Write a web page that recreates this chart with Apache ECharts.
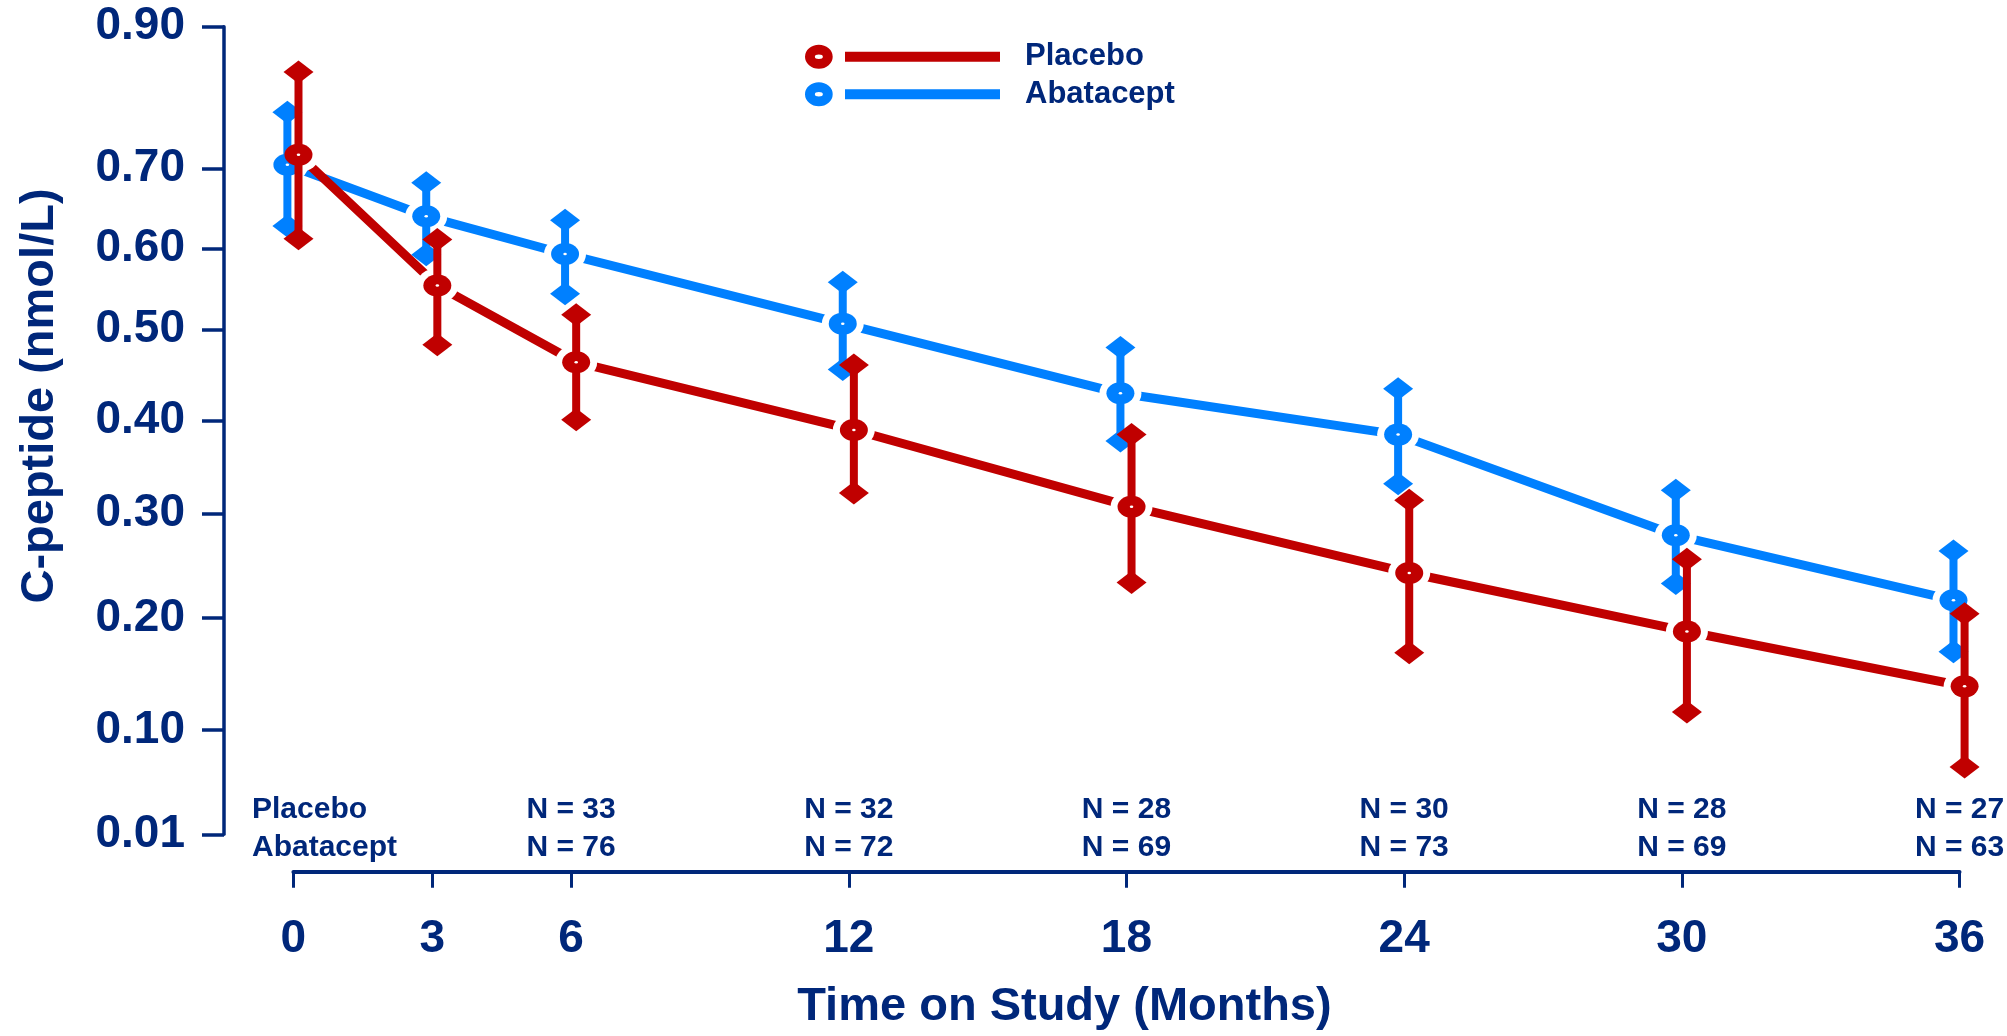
<!DOCTYPE html>
<html><head><meta charset="utf-8">
<script src="https://cdn.jsdelivr.net/npm/echarts@6/dist/echarts.min.js"></script>
<style>html,body{margin:0;padding:0;background:#fff}#chart{width:2007px;height:1036px}</style>
</head><body><div id="chart"></div>
<script>
// ---------------- data ----------------
const months = [0, 3, 6, 12, 18, 24, 30, 36];
const placeboMean  = [0.719, 0.554, 0.464, 0.390, 0.307, 0.243, 0.188, 0.139];
const placeboUpper = [0.836, 0.611, 0.518, 0.461, 0.385, 0.314, 0.256, 0.204];
const placeboLower = [0.612, 0.483, 0.401, 0.322, 0.234, 0.169, 0.116, 0.068];
const abataceptMean  = [0.705, 0.640, 0.593, 0.507, 0.430, 0.385, 0.279, 0.217];
const abataceptUpper = [0.779, 0.682, 0.635, 0.558, 0.480, 0.435, 0.325, 0.264];
const abataceptLower = [0.628, 0.592, 0.544, 0.456, 0.378, 0.332, 0.233, 0.170];
const nMonths = [6, 12, 18, 24, 30, 36];
const placeboN = [33, 32, 28, 30, 28, 27];
const abataceptN = [76, 72, 69, 73, 69, 63];
const xTicks = [0, 3, 6, 12, 18, 24, 30, 36];
const yTicks = [0.01, 0.10, 0.20, 0.30, 0.40, 0.50, 0.60, 0.70, 0.90];
const yTickLabels = ['0.01', '0.10', '0.20', '0.30', '0.40', '0.50', '0.60', '0.70', '0.90'];

// ---------------- non-linear y scale calibration (fraction of axis height per tick) ----------------
const yAxisFraction = [0, 0.1291, 0.2678, 0.3975, 0.5121, 0.6253, 0.7256, 0.8247, 1];
function T(v) {
  const n = yTicks.length;
  for (let i = 0; i < n - 1; i++) {
    if (v <= yTicks[i + 1] || i === n - 2) {
      const t = (v - yTicks[i]) / (yTicks[i + 1] - yTicks[i]);
      return yAxisFraction[i] + t * (yAxisFraction[i + 1] - yAxisFraction[i]);
    }
  }
}

// ---------------- styles ----------------
const NAVY = '#00277A', RED = '#C00000', BLUE = '#0080FF';
const FONT = '"Liberation Sans", Arial, sans-serif';
const DODGE = { placebo: 0.11, abatacept: -0.13 };
const ELLIPSE = 'path://M0,10 A10,10 0 1,0 20,10 A10,10 0 1,0 0,10 Z';
const LEGEND_ICON = 'path://M0,12 A13.85,12 0 1,0 27.7,12 A13.85,12 0 1,0 0,12 Z M9.85,12 A4,2.2 0 1,1 17.85,12 A4,2.2 0 1,1 9.85,12 Z M40,7 L195,7 L195,17 L40,17 Z';

function pts(mean, dodge) { return months.map((m, i) => [m + dodge, T(mean[i])]); }

function lineSeries(name, mean, dodge, color) {
  return { name, type: 'line', data: pts(mean, dodge), symbol: 'none', showSymbol: false,
    lineStyle: { color, width: 9 }, itemStyle: { color }, clip: false, z: 1, silent: true, animation: false };
}
function gapSeries(mean, dodge) {
  return { type: 'scatter', data: pts(mean, dodge), symbol: ELLIPSE, symbolSize: [42, 35],
    itemStyle: { color: '#ffffff', opacity: 1 }, clip: false, z: 2, silent: true, animation: false };
}
function barSeries(lower, upper, dodge, color, z) {
  return { type: 'custom', z, clip: false, silent: true, animation: false,
    data: months.map((m, i) => [m + dodge, T(lower[i]), T(upper[i])]),
    encode: { x: 0, y: [1, 2] },
    renderItem: (params, api) => {
      const lo = api.coord([api.value(0), api.value(1)]);
      const hi = api.coord([api.value(0), api.value(2)]);
      const dw = 15, dh = 11.5;
      const diamond = p => ({ type: 'polygon',
        shape: { points: [[p[0] - dw, p[1]], [p[0], p[1] - dh], [p[0] + dw, p[1]], [p[0], p[1] + dh]] },
        style: { fill: color } });
      return { type: 'group', children: [
        { type: 'line', shape: { x1: lo[0], y1: lo[1], x2: hi[0], y2: hi[1] }, style: { stroke: color, lineWidth: 8 } },
        diamond(lo), diamond(hi)] };
    } };
}
function markerSeries(mean, dodge, color, z, size) {
  return { type: 'scatter', data: pts(mean, dodge), symbol: ELLIPSE, symbolSize: size,
    itemStyle: { color, opacity: 1 }, clip: false, z, silent: true, animation: false };
}

const option = {
  animation: false,
  backgroundColor: '#ffffff',
  grid: { left: 293.4, right: 47.5, top: 26.7, bottom: 201.7, outerBoundsMode: 'none', containLabel: false },
  legend: {
    orient: 'vertical', left: 805, top: 39.7, padding: 0, itemGap: 3.6,
    itemWidth: 195, itemHeight: 24, selectedMode: false,
    itemStyle: { borderWidth: 0 },
    data: [{ name: 'Placebo', icon: LEGEND_ICON }, { name: 'Abatacept', icon: LEGEND_ICON }],
    textStyle: { color: NAVY, fontSize: 31, fontWeight: 'bold', fontFamily: FONT, lineHeight: 31, padding: [3, 0, 0, 20] }
  },
  xAxis: {
    type: 'value', min: 0, max: 36, offset: 37.4,
    splitLine: { show: false },
    axisLine: { onZero: false, lineStyle: { color: NAVY, width: 4 } },
    axisTick: { customValues: xTicks, length: 16, lineStyle: { color: NAVY, width: 3 } },
    axisLabel: { customValues: xTicks, margin: 45, color: NAVY, fontSize: 46, fontWeight: 'bold', fontFamily: FONT },
    name: 'Time on Study (Months)', nameLocation: 'middle', nameGap: 112,
    nameTextStyle: { color: NAVY, fontSize: 47, fontWeight: 'bold', fontFamily: FONT, padding: [0, 124, 0, 0] }
  },
  yAxis: {
    type: 'value', min: 0, max: 1, offset: 69.4,
    splitLine: { show: false },
    axisLine: { show: true, onZero: false, lineStyle: { color: NAVY, width: 3.5 } },
    axisTick: { show: true, customValues: yTicks.map(T), length: 22, lineStyle: { color: NAVY, width: 3.5 } },
    axisLabel: { customValues: yTicks.map(T), margin: 39, color: NAVY, fontSize: 46, fontWeight: 'bold', fontFamily: FONT,
      padding: [6, 0, 0, 0],
      formatter: v => {
        let best = 0;
        yTicks.forEach((t, i) => { if (Math.abs(T(t) - v) < Math.abs(T(yTicks[best]) - v)) best = i; });
        return yTickLabels[best];
      } },
    name: 'C-peptide (nmol/L)', nameLocation: 'middle', nameGap: 160,
    nameTextStyle: { color: NAVY, fontSize: 47, fontWeight: 'bold', fontFamily: FONT, padding: [0, 0, 0, 69] }
  },
  graphic: [
    { type: 'text', x: 252, y: 809.5, silent: true,
      style: { text: 'Placebo', fill: NAVY, font: 'bold 30px ' + FONT, align: 'left', verticalAlign: 'middle' } },
    { type: 'text', x: 252, y: 848, silent: true,
      style: { text: 'Abatacept', fill: NAVY, font: 'bold 30px ' + FONT, align: 'left', verticalAlign: 'middle' } }
  ],
  series: [
    lineSeries('Abatacept', abataceptMean, DODGE.abatacept, BLUE),
    lineSeries('Placebo', placeboMean, DODGE.placebo, RED),
    gapSeries(abataceptMean, DODGE.abatacept),
    gapSeries(placeboMean, DODGE.placebo),
    barSeries(abataceptLower, abataceptUpper, DODGE.abatacept, BLUE, 3),
    markerSeries(abataceptMean, DODGE.abatacept, BLUE, 4, [28, 22]),
    markerSeries(abataceptMean, DODGE.abatacept, '#ffffff', 5, [3.5, 2.5]),
    barSeries(placeboLower, placeboUpper, DODGE.placebo, RED, 6),
    markerSeries(placeboMean, DODGE.placebo, RED, 7, [28, 22]),
    markerSeries(placeboMean, DODGE.placebo, '#ffffff', 8, [3.5, 2.5]),
    {
      type: 'custom', z: 9, clip: false, silent: true, animation: false,
      data: nMonths.map((m, i) => [m, 0, placeboN[i], abataceptN[i]]),
      encode: { x: 0, y: 1 },
      renderItem: (params, api) => {
        const p = api.coord([api.value(0), 0]);
        const st = t => ({ text: t, fill: NAVY, font: 'bold 30px ' + FONT, align: 'center', verticalAlign: 'middle' });
        return { type: 'group', children: [
          { type: 'text', x: p[0], y: p[1] - 24.8, style: st('N = ' + api.value(2)) },
          { type: 'text', x: p[0], y: p[1] + 13.7, style: st('N = ' + api.value(3)) }
        ] };
      }
    }
  ]
};

const chart = echarts.init(document.getElementById('chart'), null, { renderer: 'canvas' });
chart.setOption(option);
</script>
</body></html>
